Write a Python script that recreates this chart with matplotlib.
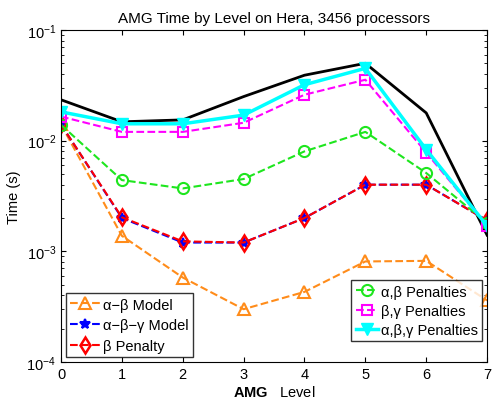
import numpy as np
import matplotlib.pyplot as plt

plt.rcParams['font.family'] = ['Liberation Sans', 'DejaVu Sans']
plt.rcParams['mathtext.fontset'] = 'custom'
plt.rcParams['mathtext.rm'] = 'Liberation Sans'
plt.rcParams['mathtext.bf'] = 'Liberation Sans:bold'

levels = [0, 1, 2, 3, 4, 5, 6, 7]
total = [0.0234, 0.0148, 0.0154, 0.025, 0.039, 0.050, 0.0178, 0.0014]
ab_model = [0.014, 0.00138, 0.00058, 0.0003, 0.00043, 0.00081, 0.00082, 0.00036]
abg_model = [0.014, 0.0020, 0.0012, 0.0012, 0.0020, 0.0040, 0.0040, 0.0019]
b_pen = [0.014, 0.00203, 0.00123, 0.0012, 0.0020, 0.0040, 0.0040, 0.0019]
ab_pen = [0.0139, 0.0044, 0.0037, 0.0045, 0.0080, 0.012, 0.0051, 0.0018]
bg_pen = [0.0165, 0.012, 0.012, 0.0145, 0.026, 0.0355, 0.0078, 0.0017]
abg_pen = [0.0182, 0.0142, 0.0142, 0.017, 0.032, 0.045, 0.0083, 0.0017]

fig = plt.figure(figsize=(4.94, 4.02), dpi=100)
ax = fig.add_axes([0.1235, 0.097, 0.8625, 0.826])

ax.plot(levels, total, color='black', lw=2)
l1, = ax.plot(levels, ab_model, '--^', color='#ff8c1a', lw=1.5, ms=8, mfc='none', mew=1.5)
l2, = ax.plot(levels, abg_model, '--*', color='blue', lw=1.5, ms=7, mew=1.5)
l3, = ax.plot(levels, b_pen, '--d', color='red', lw=1.5, ms=8, mfc='none', mew=1.8)
l4, = ax.plot(levels, ab_pen, '--o', color='#1ee61e', lw=1.5, ms=8, mfc='none', mew=1.5)
l5, = ax.plot(levels, bg_pen, '--s', color='#ff00ff', lw=1.5, ms=7, mfc='none', mew=1.5)
l6, = ax.plot(levels, abg_pen, '-v', color='cyan', lw=2.5, ms=9)

ax.set_yscale('log')
ax.set_ylim(1e-4, 1e-1)
ax.set_xlim(0, 7)
ax.set_xticks(levels)
ax.tick_params(which='both', direction='in', top=True, right=True, labelsize=10.5)
ax.set_title('AMG Time by Level on Hera, 3456 processors', fontsize=11)
ax.set_ylabel('Time (s)', fontsize=10.5)
ax.set_xlabel(r'$\bf{AMG}$   Level', fontsize=10.5, labelpad=2)

leg1 = ax.legend([l1, l2, l3], ['α−β Model', 'α−β−γ Model', 'β Penalty'],
                 loc='lower left', bbox_to_anchor=(0.012, 0.015), borderaxespad=0,
                 fancybox=False, edgecolor='black', handlelength=2.0, fontsize=10.5,
                 borderpad=0.3, labelspacing=0.45, handletextpad=0.2)
ax.add_artist(leg1)
ax.legend([l4, l5, l6], ['α,β Penalties', 'β,γ Penalties', 'α,β,γ Penalties'],
          loc='lower right', bbox_to_anchor=(0.988, 0.063), borderaxespad=0,
          fancybox=False, edgecolor='black', handlelength=1.5, fontsize=10.5,
          borderpad=0.3, labelspacing=0.35, handletextpad=0.2)

fig.savefig('out.png', dpi=100)
